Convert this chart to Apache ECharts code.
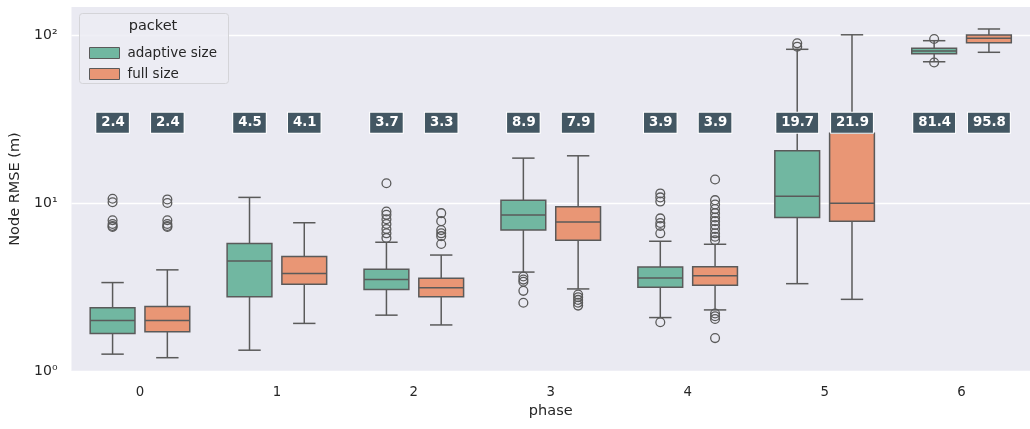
<!DOCTYPE html>
<html>
<head>
<meta charset="utf-8">
<script src="https://cdn.jsdelivr.net/npm/echarts@6/dist/echarts.min.js"></script>
<style>html,body{margin:0;padding:0;background:#fff}#c{width:1030px;height:429px}</style>
</head>
<body>
<div id="c"></div>
<script>
// ---- data ----
const phases = ['0', '1', '2', '3', '4', '5', '6'];
// [lowWhisker, Q1, median, Q3, highWhisker]
const adaptiveBox = [
  [1.26, 1.67, 2.0, 2.38, 3.36],
  [1.33, 2.77, 4.52, 5.75, 10.8],
  [2.15, 3.06, 3.51, 4.03, 5.84],
  [3.88, 6.9, 8.48, 10.4, 18.5],
  [2.08, 3.15, 3.58, 4.16, 5.92],
  [3.31, 8.2, 10.96, 20.5, 82.2],
  [69.3, 77.4, 80.3, 83.3, 92.5]
];
const fullBox = [
  [1.2, 1.71, 2.0, 2.42, 4.0],
  [1.92, 3.28, 3.8, 4.8, 7.63],
  [1.88, 2.77, 3.13, 3.56, 4.9],
  [3.08, 6.0, 7.7, 9.5, 19.1],
  [2.31, 3.24, 3.69, 4.18, 5.68],
  [2.67, 7.78, 9.96, 26.0, 100.3],
  [78.9, 90.0, 95.5, 100.0, 108.6]
];
// [phase index, value]
const adaptiveOutliers = [
  [0, 10.6], [0, 10.1], [0, 7.9], [0, 7.5], [0, 7.3], [0, 7.2],
  [2, 13.1], [2, 8.9], [2, 8.5], [2, 8.0], [2, 7.5], [2, 7.0], [2, 6.6], [2, 6.2],
  [3, 3.65], [3, 3.5], [3, 3.4], [3, 3.0], [3, 2.55],
  [4, 11.4], [4, 10.8], [4, 10.2], [4, 8.1], [4, 7.6], [4, 7.3], [4, 6.6], [4, 1.95],
  [5, 89.2], [5, 85.2],
  [6, 94.7], [6, 68.6]
];
const fullOutliers = [
  [0, 10.5], [0, 10.0], [0, 7.9], [0, 7.5], [0, 7.3], [0, 7.2],
  [2, 8.7], [2, 7.8], [2, 6.9], [2, 6.6], [2, 6.35], [2, 5.7],
  [3, 2.85], [3, 2.75], [3, 2.65], [3, 2.55], [3, 2.45],
  [4, 13.8], [4, 10.4], [4, 9.8], [4, 9.2], [4, 8.7], [4, 8.2], [4, 7.8], [4, 7.4], [4, 7.0], [4, 6.6], [4, 6.3], [4, 6.0],
  [4, 2.2], [4, 2.12], [4, 2.04], [4, 1.57]
];
const adaptiveMean = [2.4, 4.5, 3.7, 8.9, 3.9, 19.7, 81.4];
const fullMean = [2.4, 4.1, 3.3, 7.9, 3.9, 21.9, 95.8];
const meanLabelLevel = 30;
const yTickLabels = {1: '10\u2070', 10: '10\u00b9', 100: '10\u00b2'};

// ---- styles ----
const GREEN = '#71b7a1';
const ORANGE = '#e99675';
const LINE = '#5a5a5a';
const FONT = 'DejaVu Sans';

function boxRenderer(offsetFrac, color) {
  return function (params, api) {
    const idx = api.value(0);
    const band = api.size([1, 0])[0];
    const cx = api.coord([idx, 1])[0] + offsetFrac * band;
    const hw = 0.1635 * band;
    const cw = hw * 0.5;
    const y = [1, 2, 3, 4, 5].map(d => api.coord([idx, api.value(d)])[1]);
    const ls = {stroke: LINE, lineWidth: 1.5};
    return {
      type: 'group',
      children: [
        {type: 'line', shape: {x1: cx, y1: y[3], x2: cx, y2: y[4]}, style: ls},
        {type: 'line', shape: {x1: cx, y1: y[1], x2: cx, y2: y[0]}, style: ls},
        {type: 'line', shape: {x1: cx - cw, y1: y[4], x2: cx + cw, y2: y[4]}, style: ls},
        {type: 'line', shape: {x1: cx - cw, y1: y[0], x2: cx + cw, y2: y[0]}, style: ls},
        {type: 'rect', shape: {x: cx - hw, y: y[3], width: 2 * hw, height: y[1] - y[3]},
          style: {fill: color, stroke: LINE, lineWidth: 1.5}},
        {type: 'line', shape: {x1: cx - hw, y1: y[2], x2: cx + hw, y2: y[2]}, style: ls}
      ]
    };
  };
}
function outlierRenderer(offsetFrac) {
  return function (params, api) {
    const idx = api.value(0);
    const band = api.size([1, 0])[0];
    const p = api.coord([idx, api.value(1)]);
    return {type: 'circle', shape: {cx: p[0] + offsetFrac * band, cy: p[1], r: 4.4},
      style: {fill: 'none', stroke: LINE, lineWidth: 1.3}};
  };
}
function labelRenderer(offsetFrac) {
  return function (params, api) {
    const idx = api.value(0);
    const band = api.size([1, 0])[0];
    const p = api.coord([idx, api.value(1)]);
    return {type: 'text', x: p[0] + offsetFrac * band, y: p[1],
      style: {text: api.value(2).toFixed(1), fill: '#ffffff', font: 'bold 13.3px "DejaVu Sans"',
        align: 'center', verticalAlign: 'middle', backgroundColor: '#435763',
        borderColor: '#ffffff', borderWidth: 1, padding: [4, 4, 3, 5]}};
  };
}

const boxData = arr => arr.map((b, i) => [i].concat(b));
const meanData = arr => arr.map((m, i) => [i, meanLabelLevel, m]);

const chart = echarts.init(document.getElementById('c'), null, {renderer: 'canvas'});
chart.setOption({
  animation: false,
  backgroundColor: '#ffffff',
  textStyle: {fontFamily: FONT},
  grid: {left: 71.5, right: -5.5, top: 7, bottom: 58, show: true, backgroundColor: '#eaeaf2', borderWidth: 0},
  xAxis: {
    type: 'category', data: phases,
    name: 'phase', nameLocation: 'middle', nameGap: 33,
    nameTextStyle: {fontSize: 14.5, color: '#262626', fontFamily: FONT},
    axisLine: {show: false}, axisTick: {show: false},
    axisLabel: {fontSize: 13.3, color: '#262626', margin: 15, fontFamily: FONT},
    splitLine: {show: false}
  },
  yAxis: {
    type: 'log', logBase: 10, min: 1, max: 146.8,
    name: 'Node RMSE (m)', nameLocation: 'middle', nameGap: 42,
    nameTextStyle: {fontSize: 14.5, color: '#262626', fontFamily: FONT},
    axisLine: {show: false}, axisTick: {show: false},
    axisLabel: {fontSize: 14, color: '#262626', margin: 14, fontFamily: FONT,
      formatter: function (v) {
        const e = Math.log10(v);
        if (Math.abs(e - Math.round(e)) > 1e-6) return '';
        return yTickLabels[Math.round(Math.pow(10, Math.round(e)))] || '';
      }},
    splitLine: {show: true, showMaxLine: false, lineStyle: {color: '#ffffff', width: 1.3}}
  },
  legend: {
    left: 84, top: 40, orient: 'vertical', icon: 'rect', z: 100,
    itemWidth: 30, itemHeight: 11, itemGap: 5,
    data: ['adaptive size', 'full size'],
    itemStyle: {borderColor: LINE, borderWidth: 1},
    textStyle: {fontSize: 13.5, color: '#262626', fontFamily: FONT, lineHeight: 16, padding: [0, 0, 0, 3]},
    selectedMode: false
  },
  graphic: [
    {type: 'rect', left: 79, top: 13, z: 50,
      shape: {width: 149, height: 70, r: 3},
      style: {fill: 'rgba(236,236,243,0.85)', stroke: '#d4d4d8', lineWidth: 1}},
    {type: 'text', x: 153, y: 26, z: 51,
      style: {text: 'packet', font: '14.5px "DejaVu Sans"', fill: '#262626', align: 'center', verticalAlign: 'middle'}}
  ],
  series: [
    {name: 'adaptive size', type: 'custom', renderItem: boxRenderer(-0.2, GREEN),
      itemStyle: {color: GREEN}, encode: {x: 0, y: [1, 2, 3, 4, 5]}, data: boxData(adaptiveBox), z: 2},
    {name: 'full size', type: 'custom', renderItem: boxRenderer(0.2, ORANGE),
      itemStyle: {color: ORANGE}, encode: {x: 0, y: [1, 2, 3, 4, 5]}, data: boxData(fullBox), z: 2},
    {name: 'adaptive outliers', type: 'custom', renderItem: outlierRenderer(-0.2),
      encode: {x: 0, y: 1}, data: adaptiveOutliers, z: 3},
    {name: 'full outliers', type: 'custom', renderItem: outlierRenderer(0.2),
      encode: {x: 0, y: 1}, data: fullOutliers, z: 3},
    {name: 'adaptive mean', type: 'custom', renderItem: labelRenderer(-0.2),
      encode: {x: 0, y: 1}, data: meanData(adaptiveMean), z: 10},
    {name: 'full mean', type: 'custom', renderItem: labelRenderer(0.2),
      encode: {x: 0, y: 1}, data: meanData(fullMean), z: 10}
  ]
});
</script>
</body>
</html>
